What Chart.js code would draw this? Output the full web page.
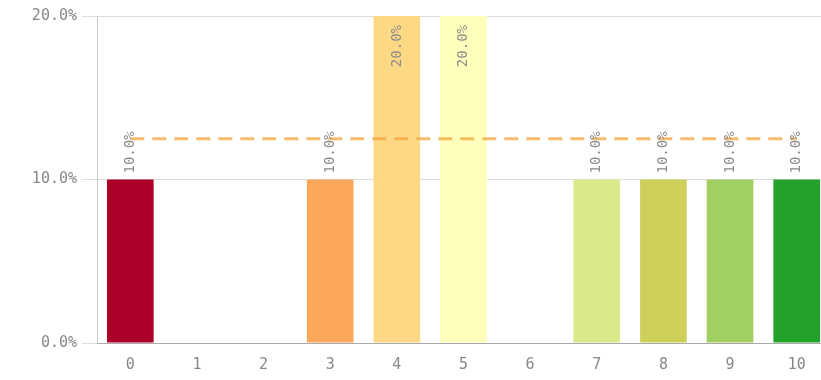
<!DOCTYPE html>
<html>
<head>
<meta charset="utf-8">
<script src="https://cdn.jsdelivr.net/npm/chart.js@4/dist/chart.umd.min.js"></script>
<style>
  html, body { margin: 0; padding: 0; background: #fff; overflow: hidden; }
  #wrap { width: 840px; height: 380px; }
</style>
</head>
<body>
<div id="wrap"><canvas id="graphCanvas" width="840" height="380"></canvas></div>
<script>
const categories = ['0', '1', '2', '3', '4', '5', '6', '7', '8', '9', '10'];
const shares = [10, 0, 0, 10, 20, 20, 0, 10, 10, 10, 10];
const referenceLevel = [12.5, 12.5, 12.5, 12.5, 12.5, 12.5, 12.5, 12.5, 12.5, 12.5, 12.5];
const barColors = ['#ad0029', '#d73027', '#f46d43', '#fca85a', '#fdd985', '#ffffbb',
                   '#d9ef8b', '#dce98a', '#cfd05a', '#a2cf62', '#22a22a'];
const yTicks = [0, 10, 20];

const monoFont = '"DejaVu Sans Mono", monospace';
const fmt = v => v.toFixed(1) + '%';

// rotated value labels on the bars
const barLabels = {
    id: 'barLabels',
    afterDatasetsDraw(chart) {
        const ctx = chart.ctx;
        const meta = chart.getDatasetMeta(1);
        const top = chart.chartArea.top;
        ctx.save();
        ctx.font = '14px ' + monoFont;
        ctx.fillStyle = '#8a8a8a';
        ctx.textBaseline = 'middle';
        meta.data.forEach((bar, i) => {
            const v = shares[i];
            if (!v) return;
            ctx.save();
            if (bar.y - top < 50) {
                ctx.translate(bar.x, top + 9);
                ctx.rotate(-Math.PI / 2);
                ctx.textAlign = 'right';
            } else {
                ctx.translate(bar.x, bar.y - 6);
                ctx.rotate(-Math.PI / 2);
                ctx.textAlign = 'left';
            }
            ctx.fillText(fmt(v), 0, 0);
            ctx.restore();
        });
        ctx.restore();
    }
};

const context = document.getElementById('graphCanvas').getContext('2d');
const chart = new Chart(context, {
    type: 'bar',
    data: {
        labels: categories,
        datasets: [
            {
                type: 'line',
                data: referenceLevel,
                borderColor: 'rgba(242, 165, 60, 0.75)',
                borderWidth: 3,
                borderDash: [14, 8],
                pointRadius: 0,
                fill: false,
                order: 0
            },
            {
                data: shares,
                backgroundColor: barColors,
                categoryPercentage: 1,
                barPercentage: 0.7,
                order: 1
            }
        ]
    },
    options: {
        responsive: false,
        animation: false,
        layout: { padding: { top: 16, right: 10, left: 0, bottom: 0 } },
        plugins: {
            legend: { display: false },
            tooltip: { enabled: false }
        },
        scales: {
            x: {
                grid: { display: false },
                border: { color: '#aaaaaa' },
                ticks: { color: '#888', padding: 5, font: { family: monoFont, size: 15 } },
                afterFit(scale) { scale.height = 37; }
            },
            y: {
                min: 0,
                max: 20,
                afterBuildTicks(scale) { scale.ticks = yTicks.map(v => ({ value: v })); },
                grid: { color: '#dddddd', tickLength: 15 },
                border: { color: '#cccccc' },
                ticks: {
                    color: '#888',
                    padding: 5,
                    font: { family: monoFont, size: 15 },
                    callback: v => fmt(v)
                },
                afterFit(scale) { scale.width = 97; }
            }
        }
    },
    plugins: [barLabels]
});
</script>
</body>
</html>
